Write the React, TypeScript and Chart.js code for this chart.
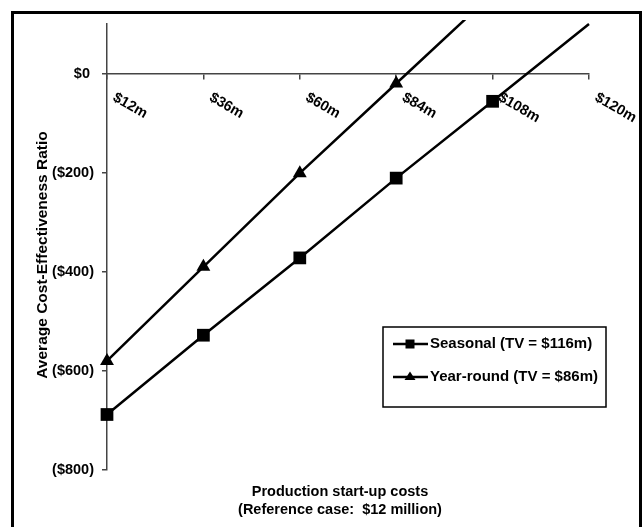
import React, { useEffect, useRef } from 'react';
import { Chart, registerables } from 'chart.js';

Chart.register(...registerables);

// ---- data ----
const xLabels = ['$12m', '$36m', '$60m', '$84m', '$108m', '$120m'];
const seasonal = [-688, -528, -372, -211, -56, 100];
const yearRound = [-580, -390, -201, -20, 161, null];
const seasonalRadius = [9, 9, 9, 9, 9, 0];
const yearRoundRadius = [8, 8, 8, 8, 0, 0];
const yTicks = [-800, -600, -400, -200, 0];
const yMin = -800;
const yMax = 100;
const seasonalLabel = 'Seasonal (TV = $116m)';
const yearRoundLabel = 'Year-round (TV = $86m)';
const xTitle = ['Production start-up costs', '(Reference case:  $12 million)'];
const yTitle = 'Average Cost-Effectiveness Ratio';

const FONT = '"Liberation Sans", Arial, sans-serif';
const AXIS = '#444';

function fmtY(v: number): string {
  return v < 0 ? `($${-v})` : `$${v} `;
}

const overlay = {
  id: 'overlay',
  afterDraw(chart: any) {
    const ctx = chart.ctx as CanvasRenderingContext2D;
    const xs = chart.scales.x;
    const ys = chart.scales.y;
    const y0 = ys.getPixelForValue(0);
    ctx.save();
    ctx.fillStyle = '#000';
    ctx.strokeStyle = '#000';

    // rotated x tick labels
    ctx.font = `bold 14.5px ${FONT}`;
    ctx.textAlign = 'left';
    ctx.textBaseline = 'middle';
    xLabels.forEach((lab, i) => {
      const px = xs.getPixelForValue(i);
      ctx.save();
      ctx.translate(px + 7, y0 + 23);
      ctx.rotate(Math.PI / 6);
      ctx.fillText(lab, 0, 0);
      ctx.restore();
    });

    // x title
    const cx = (xs.left + xs.right) / 2 - 8;
    ctx.textAlign = 'center';
    ctx.fillText(xTitle[0], cx, ys.bottom + 22);
    ctx.fillText(xTitle[1], cx, ys.bottom + 40);

    // y title
    ctx.save();
    ctx.translate(43, (ys.top + ys.bottom) / 2 + 8);
    ctx.rotate(-Math.PI / 2);
    ctx.font = `bold 15.5px ${FONT}`;
    ctx.fillText(yTitle, 0, 0);
    ctx.restore();

    // legend
    const lx = 383, ly = 327, lw = 223, lh = 80;
    ctx.fillStyle = '#fff';
    ctx.fillRect(lx, ly, lw, lh);
    ctx.lineWidth = 1.5;
    ctx.strokeStyle = '#000';
    ctx.strokeRect(lx, ly, lw, lh);
    ctx.fillStyle = '#000';
    const rows = [
      { label: seasonalLabel, y: ly + 17, shape: 'rect' },
      { label: yearRoundLabel, y: ly + 50, shape: 'tri' },
    ];
    ctx.font = `bold 15px ${FONT}`;
    ctx.textAlign = 'left';
    rows.forEach((r) => {
      ctx.lineWidth = 2.5;
      ctx.beginPath();
      ctx.moveTo(lx + 10, r.y);
      ctx.lineTo(lx + 45, r.y);
      ctx.stroke();
      const mx = lx + 27;
      if (r.shape === 'rect') {
        ctx.fillRect(mx - 4.5, r.y - 4.5, 9, 9);
      } else {
        ctx.beginPath();
        ctx.moveTo(mx, r.y - 5.5);
        ctx.lineTo(mx + 5.5, r.y + 3);
        ctx.lineTo(mx - 5.5, r.y + 3);
        ctx.closePath();
        ctx.fill();
      }
      ctx.fillText(r.label, lx + 47, r.y);
    });
    ctx.restore();
  },
};

export default function App() {
  const ref = useRef<HTMLCanvasElement | null>(null);
  useEffect(() => {
    if (!ref.current) return;
    const chart = new Chart(ref.current, {
      type: 'line',
      data: {
        labels: xLabels,
        datasets: [
          {
            label: seasonalLabel,
            data: seasonal,
            borderColor: '#000',
            backgroundColor: '#000',
            borderWidth: 2.5,
            pointStyle: 'rect',
            pointRadius: seasonalRadius,
            pointBorderWidth: 0,
            pointBackgroundColor: '#000',
            tension: 0,
            clip: { left: 12, top: 4, right: 4, bottom: 12 },
          },
          {
            label: yearRoundLabel,
            data: yearRound,
            borderColor: '#000',
            backgroundColor: '#000',
            borderWidth: 2.5,
            pointStyle: 'triangle',
            pointRadius: yearRoundRadius,
            pointBorderWidth: 0,
            pointBackgroundColor: '#000',
            tension: 0,
            clip: { left: 12, top: 4, right: 4, bottom: 12 },
          },
        ],
      },
      options: {
        responsive: false,
        devicePixelRatio: 1,
        animation: false,
        layout: { padding: { top: 24, right: 54, bottom: 57, left: 0 } },
        plugins: { legend: { display: false }, tooltip: { enabled: false } },
        scales: {
          x: {
            type: 'category',
            offset: false,
            position: { y: 0 } as any,
            grid: { drawOnChartArea: false, drawTicks: true, tickLength: 5, color: AXIS, lineWidth: 1.5 },
            border: { color: AXIS, width: 1.5 },
            ticks: { display: false },
          },
          y: {
            min: yMin,
            max: yMax,
            afterBuildTicks: (scale: any) => {
              scale.ticks = yTicks.map((v) => ({ value: v }));
            },
            afterFit: (scale: any) => {
              scale.width = 107;
              scale.paddingTop = 0;
              scale.paddingBottom = 0;
            },
            grid: { drawOnChartArea: false, drawTicks: true, tickLength: 5, color: AXIS, lineWidth: 1.5 },
            border: { color: AXIS, width: 1.5 },
            ticks: {
              color: '#000',
              padding: 8,
              font: { family: FONT, size: 14.5, weight: 'bold' },
              callback: (v: any) => fmtY(Number(v)),
            },
          },
        },
      },
      plugins: [overlay],
    } as any);
    return () => chart.destroy();
  }, []);

  return (
    <div style={{ position: 'fixed', left: 0, top: 0, width: 643, height: 527, background: '#fff', overflow: 'hidden' }}>
      <canvas ref={ref} width={643} height={527} style={{ position: 'absolute', left: 0, top: 0, width: 643, height: 527 }} />
      <div
        style={{
          position: 'absolute',
          left: 11,
          top: 11,
          width: 631,
          height: 560,
          boxSizing: 'border-box',
          border: '3px solid #000',
          pointerEvents: 'none',
        }}
      />
    </div>
  );
}
